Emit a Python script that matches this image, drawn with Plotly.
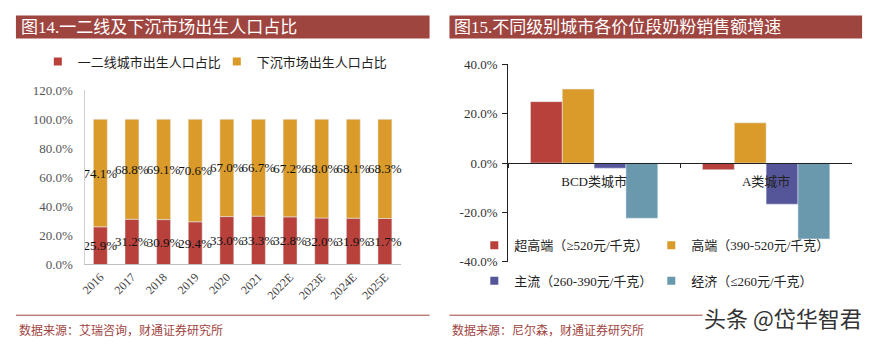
import plotly.graph_objects as go

# ---- data: left chart ----
years = ["2016", "2017", "2018", "2019", "2020", "2021", "2022E", "2023E", "2024E", "2025E"]
tier12 = [25.9, 31.2, 30.9, 29.4, 33.0, 33.3, 32.8, 32.0, 31.9, 31.7]
lower = [74.1, 68.8, 69.1, 70.6, 67.0, 66.7, 67.2, 68.0, 68.1, 68.3]
left_names = ["一二线城市出生人口占比", "下沉市场出生人口占比"]
left_ticks = [0, 20, 40, 60, 80, 100, 120]
left_ticktext = ["0.0%", "20.0%", "40.0%", "60.0%", "80.0%", "100.0%", "120.0%"]

# ---- data: right chart ----
cities = ["BCD类城市", "A类城市"]
super_high = [24.9, -2.7]
high = [30.0, 16.3]
mainstream = [-2.1, -16.7]
economy = [-22.4, -30.8]
right_names = ["超高端（≥520元/千克）", "高端（390-520元/千克）", "主流（260-390元/千克）", "经济（≤260元/千克）"]
right_ticks = [-40, -20, 0, 20, 40]
right_ticktext = ["-40.0%", "-20.0%", "0.0%", "20.0%", "40.0%"]

RED = "#B9413B"
GOLD = "#DA9B2A"
BLUE = "#55559A"
TEAL = "#6A98AC"
BAR_TITLE = "#9F453F"
FONT = "Liberation Serif, Noto Sans CJK SC"

W, H = 877, 350
def px(x):
    return x / W
def py(y):
    return 1 - y / H

fig = go.Figure()

# left stacked bars
fig.add_trace(go.Bar(
    x=years, y=tier12, name=left_names[0], marker_color=RED,
    width=0.44, offset=-0.22, xaxis="x", yaxis="y", showlegend=False,
    text=[f"{v:.1f}%" for v in tier12], textposition="inside", insidetextanchor="middle",
    textangle=0, constraintext="none", cliponaxis=False,
    textfont=dict(size=13, color="#111", family=FONT),
))
fig.add_trace(go.Bar(
    x=years, y=lower, base=tier12, name=left_names[1], marker_color=GOLD,
    width=0.44, offset=-0.22, xaxis="x", yaxis="y", showlegend=False,
    text=[f"{v:.1f}%" for v in lower], textposition="inside", insidetextanchor="middle",
    textangle=0, constraintext="none", cliponaxis=False,
    textfont=dict(size=13, color="#111", family=FONT),
))
for nm, c in zip(left_names, [RED, GOLD]):
    fig.add_trace(go.Scatter(x=[None], y=[None], mode="markers", name=nm,
                             marker=dict(symbol="square", size=8, color=c),
                             xaxis="x", yaxis="y", legend="legend"))

# right grouped bars
for i, (vals, nm, c) in enumerate(zip([super_high, high, mainstream, economy], right_names, [RED, GOLD, BLUE, TEAL])):
    fig.add_trace(go.Bar(x=cities, y=vals, name=nm, marker_color=c, offsetgroup=str(i),
                         xaxis="x2", yaxis="y2", showlegend=False))
    fig.add_trace(go.Scatter(x=[None], y=[None], mode="markers", name=nm,
                             marker=dict(symbol="square", size=8, color=c),
                             xaxis="x2", yaxis="y2", legend="legend2" if i < 2 else "legend3"))

legend_common = dict(orientation="h", font=dict(size=13, family=FONT, color="#222"),
                     bgcolor="rgba(0,0,0,0)", yanchor="middle", xanchor="left",
                     entrywidthmode="pixels", itemclick=False)

fig.update_layout(
    width=W, height=H, autosize=False,
    margin=dict(l=0, r=0, t=0, b=0),
    paper_bgcolor="white", plot_bgcolor="white",
    barmode="group", bargap=0.26, bargroupgap=0,
    font=dict(family=FONT, size=13, color="#333"),
    xaxis=dict(domain=[px(80), px(398)], type="category", categoryorder="array", categoryarray=years,
               showline=True, linecolor="#BFBFBF", linewidth=1, ticks="", tickangle=-45,
               tickfont=dict(size=12, color="#444", family=FONT), showgrid=False, zeroline=False,
               fixedrange=True, anchor="y"),
    yaxis=dict(domain=[py(269), py(87)], range=[0, 120], tickvals=left_ticks, ticktext=left_ticktext,
               showline=True, linecolor="#D0D0D0", ticks="",
               showgrid=False, zeroline=False, ticklabelstandoff=8,
               tickfont=dict(size=13, color="#555", family=FONT), anchor="x"),
    xaxis2=dict(domain=[px(506), px(852)], type="category", categoryorder="array", categoryarray=cities,
                anchor="free", position=py(163), showline=True, linecolor="#222", linewidth=1,
                ticks="outside", tickson="boundaries", ticklen=4, tickcolor="#222", ticklabelstandoff=6,
                tickfont=dict(size=13, color="#222", family=FONT), showgrid=False, zeroline=False),
    yaxis2=dict(domain=[py(266), py(60)], range=[-40, 40], tickvals=right_ticks, ticktext=right_ticktext,
                showline=True, linecolor="#222", linewidth=1,
                ticks="outside", ticklen=5, tickcolor="#222", showgrid=False, zeroline=False,
                tickfont=dict(size=13, color="#333", family=FONT), anchor="x2", ticklabelstandoff=2),
    legend=dict(x=px(33), y=py(57), entrywidth=134, **legend_common),
    legend2=dict(x=px(472), y=py(249), entrywidth=132, **legend_common),
    legend3=dict(x=px(472), y=py(286), entrywidth=132, **legend_common),
)

shapes = []
annotations = []
for (x0, x1, title, src) in [(11, 427, "图14.一二线及下沉市场出生人口占比", "数据来源：艾瑞咨询，财通证券研究所"),
                             (447, 862, "图15.不同级别城市各价位段奶粉销售额增速", "数据来源：尼尔森，财通证券研究所")]:
    shapes.append(dict(type="rect", xref="paper", yref="paper", x0=px(x0), x1=px(x1), y0=py(33), y1=py(9),
                       fillcolor=BAR_TITLE, line=dict(width=0), layer="below"))
    shapes.append(dict(type="line", xref="paper", yref="paper", x0=px(x0), x1=px(x1), y0=py(322), y1=py(322),
                       line=dict(color=BAR_TITLE, width=1)))
    annotations.append(dict(text=title, xref="paper", yref="paper", x=px(x0 + 3), y=py(21), xanchor="left",
                            yanchor="middle", showarrow=False, font=dict(size=17, color="white", family=FONT)))
    annotations.append(dict(text=src, xref="paper", yref="paper", x=px(x0 + 1), y=py(338), xanchor="left",
                            yanchor="middle", showarrow=False, font=dict(size=12, color=BAR_TITLE, family=FONT)))

annotations.append(dict(text="头条 @岱华智君", xref="paper", yref="paper", x=px(864), y=py(324), xanchor="right",
                        yanchor="middle", showarrow=False, bgcolor="white",
                        font=dict(size=22, color="#333", family="Noto Sans CJK SC")))

fig.update_layout(shapes=shapes, annotations=annotations)
fig.write_html("out.html")
